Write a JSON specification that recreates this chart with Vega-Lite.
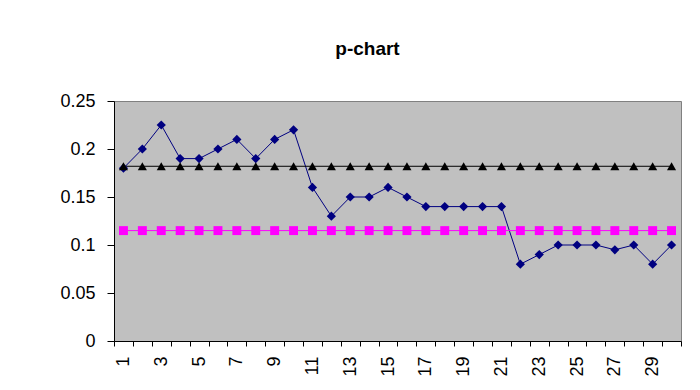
{
  "$schema": "https://vega.github.io/schema/vega-lite/v6.json",
  "autosize": "none",
  "width": 567,
  "height": 240,
  "padding": {"left": 114, "top": 101, "right": 19, "bottom": 49},
  "background": "white",
  "title": {
    "text": "p-chart",
    "font": "Liberation Sans",
    "fontSize": 19,
    "fontWeight": "bold",
    "color": "black",
    "anchor": "middle",
    "frame": "group",
    "dx": -30,
    "offset": 33
  },
  "config": {
    "view": {"fill": "#C0C0C0", "stroke": "#808080", "strokeWidth": 1},
    "axis": {
      "labelFont": "Liberation Sans",
      "labelFontSize": 18,
      "labelColor": "black",
      "domainColor": "black",
      "tickColor": "black",
      "grid": false,
      "title": null
    }
  },
  "data": {
    "values": [
      {"n": 1, "p": 0.18, "s": "p"},
      {"n": 2, "p": 0.2, "s": "p"},
      {"n": 3, "p": 0.225, "s": "p"},
      {"n": 4, "p": 0.19, "s": "p"},
      {"n": 5, "p": 0.19, "s": "p"},
      {"n": 6, "p": 0.2, "s": "p"},
      {"n": 7, "p": 0.21, "s": "p"},
      {"n": 8, "p": 0.19, "s": "p"},
      {"n": 9, "p": 0.21, "s": "p"},
      {"n": 10, "p": 0.22, "s": "p"},
      {"n": 11, "p": 0.16, "s": "p"},
      {"n": 12, "p": 0.13, "s": "p"},
      {"n": 13, "p": 0.15, "s": "p"},
      {"n": 14, "p": 0.15, "s": "p"},
      {"n": 15, "p": 0.16, "s": "p"},
      {"n": 16, "p": 0.15, "s": "p"},
      {"n": 17, "p": 0.14, "s": "p"},
      {"n": 18, "p": 0.14, "s": "p"},
      {"n": 19, "p": 0.14, "s": "p"},
      {"n": 20, "p": 0.14, "s": "p"},
      {"n": 21, "p": 0.14, "s": "p"},
      {"n": 22, "p": 0.08, "s": "p"},
      {"n": 23, "p": 0.09, "s": "p"},
      {"n": 24, "p": 0.1, "s": "p"},
      {"n": 25, "p": 0.1, "s": "p"},
      {"n": 26, "p": 0.1, "s": "p"},
      {"n": 27, "p": 0.095, "s": "p"},
      {"n": 28, "p": 0.1, "s": "p"},
      {"n": 29, "p": 0.08, "s": "p"},
      {"n": 30, "p": 0.1, "s": "p"},
      {"n": 1, "p": 0.182, "s": "UCL"},
      {"n": 2, "p": 0.182, "s": "UCL"},
      {"n": 3, "p": 0.182, "s": "UCL"},
      {"n": 4, "p": 0.182, "s": "UCL"},
      {"n": 5, "p": 0.182, "s": "UCL"},
      {"n": 6, "p": 0.182, "s": "UCL"},
      {"n": 7, "p": 0.182, "s": "UCL"},
      {"n": 8, "p": 0.182, "s": "UCL"},
      {"n": 9, "p": 0.182, "s": "UCL"},
      {"n": 10, "p": 0.182, "s": "UCL"},
      {"n": 11, "p": 0.182, "s": "UCL"},
      {"n": 12, "p": 0.182, "s": "UCL"},
      {"n": 13, "p": 0.182, "s": "UCL"},
      {"n": 14, "p": 0.182, "s": "UCL"},
      {"n": 15, "p": 0.182, "s": "UCL"},
      {"n": 16, "p": 0.182, "s": "UCL"},
      {"n": 17, "p": 0.182, "s": "UCL"},
      {"n": 18, "p": 0.182, "s": "UCL"},
      {"n": 19, "p": 0.182, "s": "UCL"},
      {"n": 20, "p": 0.182, "s": "UCL"},
      {"n": 21, "p": 0.182, "s": "UCL"},
      {"n": 22, "p": 0.182, "s": "UCL"},
      {"n": 23, "p": 0.182, "s": "UCL"},
      {"n": 24, "p": 0.182, "s": "UCL"},
      {"n": 25, "p": 0.182, "s": "UCL"},
      {"n": 26, "p": 0.182, "s": "UCL"},
      {"n": 27, "p": 0.182, "s": "UCL"},
      {"n": 28, "p": 0.182, "s": "UCL"},
      {"n": 29, "p": 0.182, "s": "UCL"},
      {"n": 30, "p": 0.182, "s": "UCL"},
      {"n": 1, "p": 0.115, "s": "CL"},
      {"n": 2, "p": 0.115, "s": "CL"},
      {"n": 3, "p": 0.115, "s": "CL"},
      {"n": 4, "p": 0.115, "s": "CL"},
      {"n": 5, "p": 0.115, "s": "CL"},
      {"n": 6, "p": 0.115, "s": "CL"},
      {"n": 7, "p": 0.115, "s": "CL"},
      {"n": 8, "p": 0.115, "s": "CL"},
      {"n": 9, "p": 0.115, "s": "CL"},
      {"n": 10, "p": 0.115, "s": "CL"},
      {"n": 11, "p": 0.115, "s": "CL"},
      {"n": 12, "p": 0.115, "s": "CL"},
      {"n": 13, "p": 0.115, "s": "CL"},
      {"n": 14, "p": 0.115, "s": "CL"},
      {"n": 15, "p": 0.115, "s": "CL"},
      {"n": 16, "p": 0.115, "s": "CL"},
      {"n": 17, "p": 0.115, "s": "CL"},
      {"n": 18, "p": 0.115, "s": "CL"},
      {"n": 19, "p": 0.115, "s": "CL"},
      {"n": 20, "p": 0.115, "s": "CL"},
      {"n": 21, "p": 0.115, "s": "CL"},
      {"n": 22, "p": 0.115, "s": "CL"},
      {"n": 23, "p": 0.115, "s": "CL"},
      {"n": 24, "p": 0.115, "s": "CL"},
      {"n": 25, "p": 0.115, "s": "CL"},
      {"n": 26, "p": 0.115, "s": "CL"},
      {"n": 27, "p": 0.115, "s": "CL"},
      {"n": 28, "p": 0.115, "s": "CL"},
      {"n": 29, "p": 0.115, "s": "CL"},
      {"n": 30, "p": 0.115, "s": "CL"}
    ]
  },
  "encoding": {
    "x": {
      "field": "n",
      "type": "ordinal",
      "scale": {"type": "band", "paddingInner": 0, "paddingOuter": 0},
      "axis": {
        "labelAngle": -90,
        "labelExpr": "datum.value % 2 == 1 ? datum.label : ''",
        "tickBand": "extent",
        "tickSize": 5,
        "labelPadding": 10
      }
    },
    "y": {
      "field": "p",
      "type": "quantitative",
      "scale": {"domain": [0, 0.25], "nice": false},
      "axis": {
        "values": [0, 0.05, 0.1, 0.15, 0.2, 0.25],
        "format": ".2~f",
        "tickSize": 7,
        "labelPadding": 12
      }
    },
    "color": {
      "field": "s",
      "type": "nominal",
      "scale": {"domain": ["p", "UCL", "CL"], "range": ["#000080", "#000000", "#FF00FF"]},
      "legend": null
    }
  },
  "layer": [
    {
      "mark": {"type": "line", "strokeWidth": 1}
    },
    {
      "mark": {"type": "point", "filled": true, "opacity": 1},
      "encoding": {
        "shape": {
          "field": "s",
          "type": "nominal",
          "scale": {"domain": ["p", "UCL", "CL"], "range": ["diamond", "triangle-up", "square"]},
          "legend": null
        },
        "size": {
          "field": "s",
          "type": "nominal",
          "scale": {"domain": ["p", "UCL", "CL"], "range": [85, 80, 49]},
          "legend": null
        }
      }
    }
  ]
}
